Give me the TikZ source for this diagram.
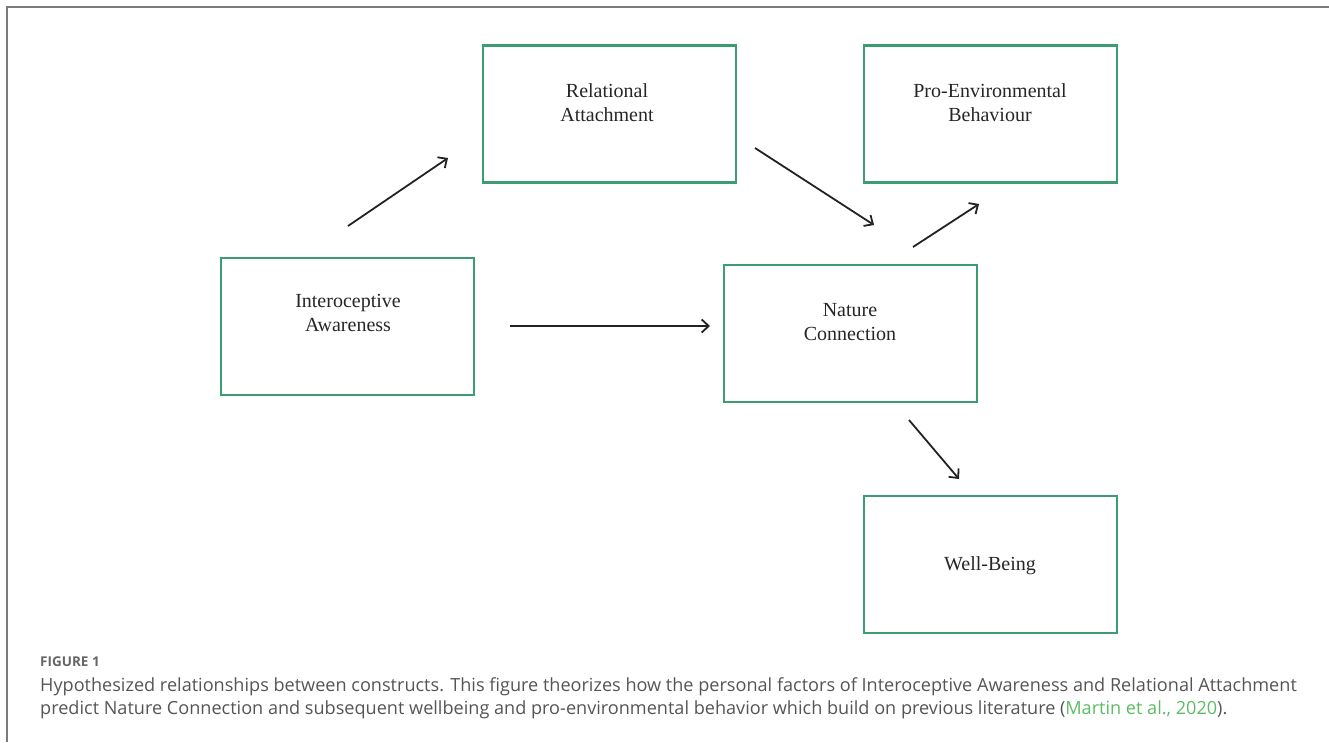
\documentclass[tikz,border=0pt]{standalone}
\usepackage{fontspec}
\setmainfont{Liberation Serif}
\newfontfamily\capfont{Open Sans}
\usetikzlibrary{arrows.meta}
\definecolor{boxgreen}{HTML}{3C9C74}
\definecolor{frame}{HTML}{7A7A7A}
\definecolor{captext}{HTML}{555555}
\definecolor{citegreen}{HTML}{5DBB63}
\definecolor{arrowc}{HTML}{222222}
\tikzset{
  construct/.style={draw=boxgreen, line width=2.4pt, rectangle, minimum width=253pt, minimum height=137pt, inner sep=0pt},
  label/.style={align=center, font=\fontsize{20}{24}\selectfont, text=black!85, inner sep=0pt},
  path/.style={draw=arrowc, line width=1.8pt, -{Straight Barb[length=7pt,width=13pt,line width=1.8pt]}},
  capline/.style={anchor=west, inner sep=0pt, text=captext, font=\capfont\fontsize{18.1}{22}\selectfont},
}
\begin{document}
\begin{tikzpicture}[x=1pt,y=-1pt]
\useasboundingbox (0,0) rectangle (1329,742);
% page frame (left and top rules)
\draw[frame, line width=2pt] (7,742) -- (7,7) -- (1329,7);

% constructs
\node[construct] (ra)  at (609.5,114) {};
\node[construct] (peb) at (990.5,114) {};
\node[construct] (ia)  at (347.5,326.5) {};
\node[construct] (nc)  at (850.5,333.5) {};
\node[construct] (wb)  at (990.5,564.5) {};

\node[label] (raT)  at (607,103) {Relational\\Attachment};
\node[label] (pebT) at (990,103) {Pro-Environmental\\Behaviour};
\node[label] (iaT)  at (348,313) {Interoceptive\\Awareness};
\node[label] (ncT)  at (850,322) {Nature\\Connection};
\node[label] (wbT)  at (990,566) {Well-Being};

% hypothesised paths
\coordinate (p1s) at (348,226);  \coordinate (p1e) at (448,158);
\coordinate (p2s) at (755,148);  \coordinate (p2e) at (874,225);
\coordinate (p3s) at (913,247);  \coordinate (p3e) at (979,204);
\coordinate (p4s) at (510,326);  \coordinate (p4e) at (710,326);
\coordinate (p5s) at (909,420);  \coordinate (p5e) at (959,479);
\draw[path] (p1s) -- (p1e);
\draw[path] (p2s) -- (p2e);
\draw[path] (p3s) -- (p3e);
\draw[path] (p4s) -- (p4e);
\draw[path] (p5s) -- (p5e);

% caption
\node[anchor=west, inner sep=0pt, text=captext!90, font=\capfont\bfseries\fontsize{13.5}{16}\selectfont] (fig) at (40,662) {FIGURE 1};
\node[capline] (cap1) at (40,687) {Hypothesized relationships between constructs. This figure theorizes how the personal factors of Interoceptive Awareness and Relational Attachment};
\node[capline] (cap2) at (40,710) {predict Nature Connection and subsequent wellbeing and pro-environmental behavior which build on previous literature (\textcolor{citegreen}{Martin et al., 2020}).};
\end{tikzpicture}
\end{document}
